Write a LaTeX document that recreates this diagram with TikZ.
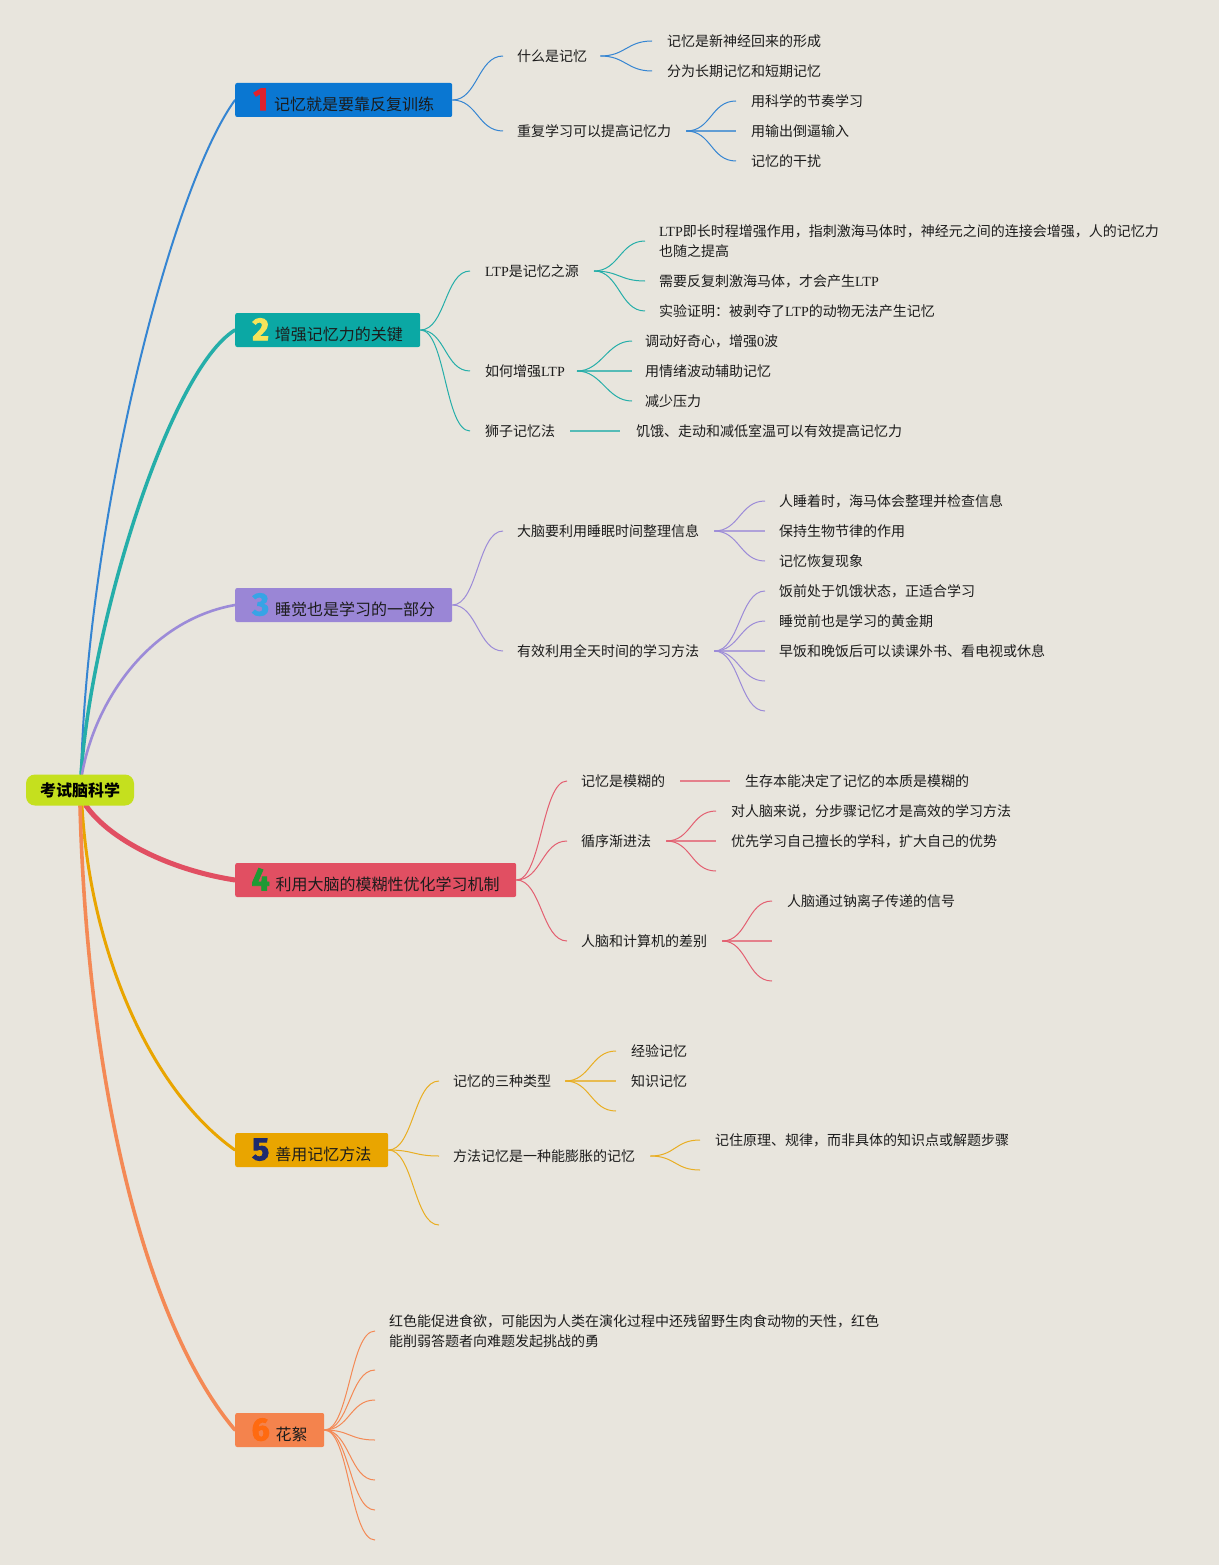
\documentclass[tikz,border=0pt]{standalone}
\usepackage{fontspec}
\setmainfont{Noto Sans CJK SC}
\newfontfamily\lt{Liberation Serif}
\newfontfamily\numf{Fira Sans}[BoldFeatures={FakeBold=2.5}]
\usetikzlibrary{calc}
\definecolor{bg}{HTML}{E8E5DD}
\definecolor{txt}{HTML}{1C1C1C}
\definecolor{rootc}{HTML}{C5E01E}
\definecolor{b1}{HTML}{0A77D2}\definecolor{c1}{HTML}{3585D2}
\definecolor{b2}{HTML}{0BA8A4}\definecolor{c2}{HTML}{25AEA9}
\definecolor{b3}{HTML}{9A86D6}\definecolor{c3}{HTML}{9C8BD8}
\definecolor{b4}{HTML}{E14F62}\definecolor{c4}{HTML}{E35F70}
\definecolor{b5}{HTML}{E9A500}\definecolor{c5}{HTML}{E9AE22}
\definecolor{b6}{HTML}{F4834D}\definecolor{c6}{HTML}{F48955}
\definecolor{n1}{HTML}{E0222E}\definecolor{n2}{HTML}{F5E45A}
\definecolor{n3}{HTML}{36A4E6}\definecolor{n4}{HTML}{1E9A34}
\definecolor{n5}{HTML}{1E2B6E}\definecolor{n6}{HTML}{FF6A10}
\pgfdeclarelayer{bgl}\pgfdeclarelayer{lines}
\pgfsetlayers{bgl,lines,main}
\newcommand\mynum[2]{{\numf\bfseries\fontsize{32}{32}\selectfont\textcolor{#1}{#2}}\hspace{6pt}}
\newcommand\cedge[3]{\draw[#1] (#2) .. controls +(25,0) and +(-25,0) .. (#3);}
\begin{document}
\begin{tikzpicture}[x=1pt,y=-1pt,
  box/.style={anchor=west, minimum height=34pt, inner xsep=0pt, inner ysep=0pt, rounded corners=2pt, text=txt, font=\fontsize{16}{16}\selectfont},
  rootbox/.style={fill=rootc, rounded corners=9pt, minimum width=108pt, minimum height=31pt, inner sep=0pt, text=black, font=\bfseries\fontsize{16}{16}\selectfont},
  leaf/.style={anchor=west, inner sep=0pt, text=txt, font=\fontsize{14}{20}\selectfont, align=left},
  s1/.style={draw=c1, line width=1pt}, s2/.style={draw=c2, line width=1pt},
  s3/.style={draw=c3, line width=1pt}, s4/.style={draw=c4, line width=1pt},
  s5/.style={draw=c5, line width=1pt}, s6/.style={draw=c6, line width=1pt},
  stub/.style={line width=2pt, opacity=0.75},
  mainline/.style={line cap=round}
]
\begin{pgfonlayer}{bgl}
\fill[bg] (0,0) rectangle (1219,1565);
\end{pgfonlayer}
\useasboundingbox (0,0) rectangle (1219,1565);

% root
\node[rootbox] (R) at (80,790) {考试脑科学};

% ===== Topic 1
\node[box, fill=b1, minimum width=217pt] (B1) at (235,100) {\mynum{n1}{1}记忆就是要靠反复训练};
\node[leaf] (A11) at (517,56) {什么是记忆};
\node[leaf] (A12) at (517,131) {重复学习可以提高记忆力};
\node[leaf] (L111) at (667,41) {记忆是新神经回来的形成};
\node[leaf] (L112) at (667,71) {分为长期记忆和短期记忆};
\node[leaf] (L121) at (751,101) {用科学的节奏学习};
\node[leaf] (L122) at (751,131) {用输出倒逼输入};
\node[leaf] (L123) at (751,161) {记忆的干扰};

% ===== Topic 2
\node[box, fill=b2, minimum width=185pt] (B2) at (235,330) {\mynum{n2}{2}增强记忆力的关键};
\node[leaf] (A21) at (485,271) {{\lt LTP}是记忆之源};
\node[leaf] (A22) at (485,371) {如何增强{\lt LTP}};
\node[leaf] (A23) at (485,431) {狮子记忆法};
\node[leaf] (L211) at (659,241) {{\lt LTP}即长时程增强作用，指刺激海马体时，神经元之间的连接会增强，人的记忆力\\也随之提高};
\node[leaf] (L212) at (659,281) {需要反复刺激海马体，才会产生{\lt LTP}};
\node[leaf] (L213) at (659,311) {实验证明：被剥夺了{\lt LTP}的动物无法产生记忆};
\node[leaf] (L221) at (645,341) {调动好奇心，增强{\lt 0}波};
\node[leaf] (L222) at (645,371) {用情绪波动辅助记忆};
\node[leaf] (L223) at (645,401) {减少压力};
\node[leaf] (L231) at (636,431) {饥饿、走动和减低室温可以有效提高记忆力};

% ===== Topic 3
\node[box, fill=b3, minimum width=217pt] (B3) at (235,605) {\mynum{n3}{3}睡觉也是学习的一部分};
\node[leaf] (A31) at (517,531) {大脑要利用睡眠时间整理信息};
\node[leaf] (A32) at (517,651) {有效利用全天时间的学习方法};
\node[leaf] (L311) at (779,501) {人睡着时，海马体会整理并检查信息};
\node[leaf] (L312) at (779,531) {保持生物节律的作用};
\node[leaf] (L313) at (779,561) {记忆恢复现象};
\node[leaf] (L321) at (779,591) {饭前处于饥饿状态，正适合学习};
\node[leaf] (L322) at (779,621) {睡觉前也是学习的黄金期};
\node[leaf] (L323) at (779,651) {早饭和晚饭后可以读课外书、看电视或休息};
\coordinate (E324) at (765,681);
\coordinate (E325) at (765,711);

% ===== Topic 4
\node[box, fill=b4, minimum width=281pt] (B4) at (235,880) {\mynum{n4}{4}利用大脑的模糊性优化学习机制};
\node[leaf] (A41) at (581,781) {记忆是模糊的};
\node[leaf] (A42) at (581,841) {循序渐进法};
\node[leaf] (A43) at (581,941) {人脑和计算机的差别};
\node[leaf] (L411) at (745,781) {生存本能决定了记忆的本质是模糊的};
\node[leaf] (L421) at (731,811) {对人脑来说，分步骤记忆才是高效的学习方法};
\node[leaf] (L422) at (731,841) {优先学习自己擅长的学科，扩大自己的优势};
\coordinate (E423) at (716,871);
\node[leaf] (L431) at (787,901) {人脑通过钠离子传递的信号};
\coordinate (E432) at (772,941);
\coordinate (E433) at (772,981);

% ===== Topic 5
\node[box, fill=b5, minimum width=153pt] (B5) at (235,1150) {\mynum{n5}{5}善用记忆方法};
\node[leaf] (A51) at (453,1081) {记忆的三种类型};
\node[leaf] (A52) at (453,1156) {方法记忆是一种能膨胀的记忆};
\coordinate (E53) at (439,1225);
\node[leaf] (L511) at (631,1051) {经验记忆};
\node[leaf] (L512) at (631,1081) {知识记忆};
\coordinate (E513) at (616,1111);
\node[leaf] (L521) at (715,1140) {记住原理、规律，而非具体的知识点或解题步骤};
\coordinate (E522) at (700,1170);

% ===== Topic 6
\node[box, fill=b6, minimum width=89pt] (B6) at (235,1430) {\mynum{n6}{6}花絮};
\node[leaf] (L61) at (389,1331) {红色能促进食欲，可能因为人类在演化过程中还残留野生肉食动物的天性，红色\\能削弱答题者向难题发起挑战的勇};
\coordinate (E62) at (375,1370);
\coordinate (E63) at (375,1400);
\coordinate (E64) at (375,1440);
\coordinate (E65) at (375,1480);
\coordinate (E66) at (375,1510);
\coordinate (E67) at (375,1540);

\begin{pgfonlayer}{lines}
% main branches
\draw[mainline, draw=c1, line width=2pt] ([xshift=1pt]R.north) .. controls (88,520) and (170,190) .. (B1.west);
\draw[mainline, draw=c2, line width=3.5pt] ([xshift=1pt]R.north) .. controls (92,620) and (170,370) .. (B2.west);
\draw[mainline, draw=c3, line width=2.6pt] ([xshift=2pt]R.north) .. controls (95,700) and (150,620) .. (B3.west);
\draw[mainline, draw=b4, line width=5pt] ([xshift=6pt]R.south) .. controls (110,840) and (170,870) .. (B4.west);
\draw[mainline, draw=b5, line width=3pt] ([xshift=2pt]R.south) .. controls (90,950) and (150,1090) .. (B5.west);
\draw[mainline, draw=c6, line width=3.6pt] (R.south) .. controls (88,1100) and (150,1330) .. (B6.west);

% topic 1
\cedge{s1}{B1.east}{[xshift=-14pt]A11.west}
\cedge{s1}{B1.east}{[xshift=-14pt]A12.west}
\cedge{s1}{[xshift=13pt]A11.east}{[xshift=-15pt]L111.west}
\cedge{s1}{[xshift=13pt]A11.east}{[xshift=-15pt]L112.west}
\cedge{s1}{[xshift=15pt]A12.east}{[xshift=-15pt]L121.west}
\draw[s1,stub] ([xshift=15pt]A12.east) -- ([xshift=-15pt]L122.west);
\cedge{s1}{[xshift=15pt]A12.east}{[xshift=-15pt]L123.west}

% topic 2
\cedge{s2}{B2.east}{[xshift=-15pt]A21.west}
\cedge{s2}{B2.east}{[xshift=-15pt]A22.west}
\cedge{s2}{B2.east}{[xshift=-15pt]A23.west}
\cedge{s2}{[xshift=15pt]A21.east}{[xshift=-14pt]L211.west}
\cedge{s2}{[xshift=15pt]A21.east}{[xshift=-14pt]L212.west}
\cedge{s2}{[xshift=15pt]A21.east}{[xshift=-14pt]L213.west}
\cedge{s2}{[xshift=12pt]A22.east}{[xshift=-13pt]L221.west}
\draw[s2,stub] ([xshift=12pt]A22.east) -- ([xshift=-13pt]L222.west);
\cedge{s2}{[xshift=12pt]A22.east}{[xshift=-13pt]L223.west}
\draw[s2,stub] ([xshift=15pt]A23.east) -- ([xshift=-16pt]L231.west);

% topic 3
\cedge{s3}{B3.east}{[xshift=-14pt]A31.west}
\cedge{s3}{B3.east}{[xshift=-14pt]A32.west}
\cedge{s3}{[xshift=15pt]A31.east}{[xshift=-14pt]L311.west}
\draw[s3,stub] ([xshift=15pt]A31.east) -- ([xshift=-14pt]L312.west);
\cedge{s3}{[xshift=15pt]A31.east}{[xshift=-14pt]L313.west}
\cedge{s3}{[xshift=15pt]A32.east}{[xshift=-14pt]L321.west}
\cedge{s3}{[xshift=15pt]A32.east}{[xshift=-14pt]L322.west}
\draw[s3,stub] ([xshift=15pt]A32.east) -- ([xshift=-14pt]L323.west);
\cedge{s3}{[xshift=15pt]A32.east}{E324}
\cedge{s3}{[xshift=15pt]A32.east}{E325}

% topic 4
\cedge{s4}{B4.east}{[xshift=-14pt]A41.west}
\cedge{s4}{B4.east}{[xshift=-14pt]A42.west}
\cedge{s4}{B4.east}{[xshift=-14pt]A43.west}
\draw[s4,stub] ([xshift=15pt]A41.east) -- ([xshift=-15pt]L411.west);
\cedge{s4}{[xshift=15pt]A42.east}{[xshift=-15pt]L421.west}
\draw[s4,stub] ([xshift=15pt]A42.east) -- ([xshift=-15pt]L422.west);
\cedge{s4}{[xshift=15pt]A42.east}{E423}
\cedge{s4}{[xshift=15pt]A43.east}{[xshift=-15pt]L431.west}
\draw[s4,stub] ([xshift=15pt]A43.east) -- (E432);
\cedge{s4}{[xshift=15pt]A43.east}{E433}

% topic 5
\cedge{s5}{B5.east}{[xshift=-14pt]A51.west}
\cedge{s5}{B5.east}{[xshift=-14pt]A52.west}
\cedge{s5}{B5.east}{E53}
\cedge{s5}{[xshift=14pt]A51.east}{[xshift=-15pt]L511.west}
\draw[s5,stub] ([xshift=14pt]A51.east) -- ([xshift=-15pt]L512.west);
\cedge{s5}{[xshift=14pt]A51.east}{E513}
\cedge{s5}{[xshift=15pt]A52.east}{[xshift=-15pt]L521.west}
\cedge{s5}{[xshift=15pt]A52.east}{E522}

% topic 6
\cedge{s6}{B6.east}{[xshift=-14pt]L61.west}
\cedge{s6}{B6.east}{E62}
\cedge{s6}{B6.east}{E63}
\cedge{s6}{B6.east}{E64}
\cedge{s6}{B6.east}{E65}
\cedge{s6}{B6.east}{E66}
\cedge{s6}{B6.east}{E67}
\end{pgfonlayer}
\end{tikzpicture}
\end{document}
